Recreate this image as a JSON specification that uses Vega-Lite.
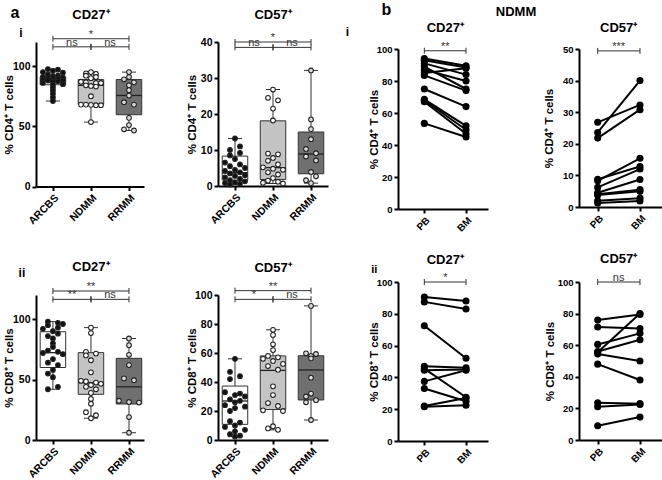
{
"$schema": "https://vega.github.io/schema/vega-lite/v6.json",
"background": "white",
"padding": {"left": 3, "top": 1, "right": 0, "bottom": 0},
"config": {
  "view": {"stroke": null},
  "font": "Liberation Sans",
  "axis": {"grid": false, "domainColor": "#000", "domainWidth": 2, "tickColor": "#000", "tickWidth": 2, "tickSize": 4, "labelColor": "#000", "labelFontWeight": "bold", "labelFontSize": 10.5, "labelPadding": 2, "titleColor": "#000", "titleFontWeight": "bold", "titleFontSize": 11.5, "titleBaseline": "middle", "labelOverlap": false}
},
"datasets": {
  "pts": [
    {"panel":"a1","group":"ARCBS","value":97.5,"lane":-1},{"panel":"a1","group":"ARCBS","value":97,"lane":1},{"panel":"a1","group":"ARCBS","value":96,"lane":0},{"panel":"a1","group":"ARCBS","value":95,"lane":-2},{"panel":"a1","group":"ARCBS","value":94.5,"lane":2},{"panel":"a1","group":"ARCBS","value":93,"lane":-1},{"panel":"a1","group":"ARCBS","value":92,"lane":1},{"panel":"a1","group":"ARCBS","value":91.5,"lane":0},{"panel":"a1","group":"ARCBS","value":91,"lane":-2},{"panel":"a1","group":"ARCBS","value":90.5,"lane":2},{"panel":"a1","group":"ARCBS","value":90,"lane":-1},{"panel":"a1","group":"ARCBS","value":89.5,"lane":1},{"panel":"a1","group":"ARCBS","value":89,"lane":0},{"panel":"a1","group":"ARCBS","value":88.5,"lane":-2},{"panel":"a1","group":"ARCBS","value":88,"lane":2},{"panel":"a1","group":"ARCBS","value":88,"lane":-1},{"panel":"a1","group":"ARCBS","value":87.5,"lane":1},{"panel":"a1","group":"ARCBS","value":87,"lane":0},{"panel":"a1","group":"ARCBS","value":86,"lane":-2},{"panel":"a1","group":"ARCBS","value":85,"lane":2},{"panel":"a1","group":"ARCBS","value":84.5,"lane":0},{"panel":"a1","group":"ARCBS","value":82,"lane":0},{"panel":"a1","group":"ARCBS","value":79.5,"lane":0},{"panel":"a1","group":"ARCBS","value":77,"lane":0},{"panel":"a1","group":"ARCBS","value":74,"lane":0},{"panel":"a1","group":"ARCBS","value":71,"lane":0},
    {"panel":"a1","group":"NDMM","value":95,"lane":0},{"panel":"a1","group":"NDMM","value":94,"lane":-1},{"panel":"a1","group":"NDMM","value":93.5,"lane":1},{"panel":"a1","group":"NDMM","value":92,"lane":-1},{"panel":"a1","group":"NDMM","value":91,"lane":1},{"panel":"a1","group":"NDMM","value":90,"lane":0},{"panel":"a1","group":"NDMM","value":87,"lane":-2},{"panel":"a1","group":"NDMM","value":86.5,"lane":-1},{"panel":"a1","group":"NDMM","value":86,"lane":1},{"panel":"a1","group":"NDMM","value":86,"lane":2},{"panel":"a1","group":"NDMM","value":84,"lane":-1},{"panel":"a1","group":"NDMM","value":83.5,"lane":0},{"panel":"a1","group":"NDMM","value":83,"lane":1},{"panel":"a1","group":"NDMM","value":75,"lane":0},{"panel":"a1","group":"NDMM","value":68,"lane":-2},{"panel":"a1","group":"NDMM","value":68,"lane":-1},{"panel":"a1","group":"NDMM","value":67.8,"lane":0},{"panel":"a1","group":"NDMM","value":67.5,"lane":1},{"panel":"a1","group":"NDMM","value":67.5,"lane":2},{"panel":"a1","group":"NDMM","value":53.5,"lane":0},
    {"panel":"a1","group":"RRMM","value":95,"lane":0},{"panel":"a1","group":"RRMM","value":91,"lane":0},{"panel":"a1","group":"RRMM","value":89,"lane":-1},{"panel":"a1","group":"RRMM","value":86.5,"lane":1},{"panel":"a1","group":"RRMM","value":84,"lane":0},{"panel":"a1","group":"RRMM","value":80,"lane":0},{"panel":"a1","group":"RRMM","value":75.5,"lane":0},{"panel":"a1","group":"RRMM","value":70,"lane":-1},{"panel":"a1","group":"RRMM","value":68,"lane":1},{"panel":"a1","group":"RRMM","value":57,"lane":0},{"panel":"a1","group":"RRMM","value":51,"lane":0},{"panel":"a1","group":"RRMM","value":47.5,"lane":-1},{"panel":"a1","group":"RRMM","value":46.5,"lane":1},
    {"panel":"a2","group":"ARCBS","value":13.2,"lane":0},{"panel":"a2","group":"ARCBS","value":11,"lane":1},{"panel":"a2","group":"ARCBS","value":10,"lane":-1},{"panel":"a2","group":"ARCBS","value":9.2,"lane":1},{"panel":"a2","group":"ARCBS","value":8.5,"lane":-1},{"panel":"a2","group":"ARCBS","value":7.5,"lane":0},{"panel":"a2","group":"ARCBS","value":6.5,"lane":-2},{"panel":"a2","group":"ARCBS","value":6,"lane":1},{"panel":"a2","group":"ARCBS","value":5.5,"lane":-1},{"panel":"a2","group":"ARCBS","value":5,"lane":2},{"panel":"a2","group":"ARCBS","value":4.5,"lane":0},{"panel":"a2","group":"ARCBS","value":4.2,"lane":-2},{"panel":"a2","group":"ARCBS","value":3.8,"lane":1},{"panel":"a2","group":"ARCBS","value":3.5,"lane":-1},{"panel":"a2","group":"ARCBS","value":3,"lane":2},{"panel":"a2","group":"ARCBS","value":2.8,"lane":0},{"panel":"a2","group":"ARCBS","value":2.4,"lane":-2},{"panel":"a2","group":"ARCBS","value":2,"lane":1},{"panel":"a2","group":"ARCBS","value":1.6,"lane":-1},{"panel":"a2","group":"ARCBS","value":1.3,"lane":2},{"panel":"a2","group":"ARCBS","value":1,"lane":0},{"panel":"a2","group":"ARCBS","value":0.8,"lane":-2},{"panel":"a2","group":"ARCBS","value":0.6,"lane":1},{"panel":"a2","group":"ARCBS","value":0.4,"lane":-1},
    {"panel":"a2","group":"NDMM","value":26.8,"lane":0},{"panel":"a2","group":"NDMM","value":24.5,"lane":-1},{"panel":"a2","group":"NDMM","value":23.8,"lane":1},{"panel":"a2","group":"NDMM","value":21.5,"lane":0},{"panel":"a2","group":"NDMM","value":18.2,"lane":0},{"panel":"a2","group":"NDMM","value":9,"lane":-1},{"panel":"a2","group":"NDMM","value":8.8,"lane":1},{"panel":"a2","group":"NDMM","value":7.8,"lane":0},{"panel":"a2","group":"NDMM","value":7,"lane":-1},{"panel":"a2","group":"NDMM","value":6,"lane":1},{"panel":"a2","group":"NDMM","value":5.2,"lane":-2},{"panel":"a2","group":"NDMM","value":4.8,"lane":0},{"panel":"a2","group":"NDMM","value":4.5,"lane":2},{"panel":"a2","group":"NDMM","value":3.8,"lane":-1},{"panel":"a2","group":"NDMM","value":3.2,"lane":1},{"panel":"a2","group":"NDMM","value":2.2,"lane":0},{"panel":"a2","group":"NDMM","value":1.5,"lane":-1},{"panel":"a2","group":"NDMM","value":1.2,"lane":1},{"panel":"a2","group":"NDMM","value":0.9,"lane":-2},{"panel":"a2","group":"NDMM","value":0.7,"lane":2},
    {"panel":"a2","group":"RRMM","value":32.1,"lane":0},{"panel":"a2","group":"RRMM","value":18.5,"lane":0},{"panel":"a2","group":"RRMM","value":15.8,"lane":0},{"panel":"a2","group":"RRMM","value":13,"lane":0},{"panel":"a2","group":"RRMM","value":10.3,"lane":-1},{"panel":"a2","group":"RRMM","value":9.1,"lane":1},{"panel":"a2","group":"RRMM","value":8.2,"lane":-1},{"panel":"a2","group":"RRMM","value":7.1,"lane":1},{"panel":"a2","group":"RRMM","value":3.9,"lane":0},{"panel":"a2","group":"RRMM","value":2.7,"lane":1},{"panel":"a2","group":"RRMM","value":1.6,"lane":-1},{"panel":"a2","group":"RRMM","value":0.8,"lane":0},
    {"panel":"a3","group":"ARCBS","value":98,"lane":-1},{"panel":"a3","group":"ARCBS","value":97,"lane":1},{"panel":"a3","group":"ARCBS","value":96,"lane":2},{"panel":"a3","group":"ARCBS","value":95,"lane":-1},{"panel":"a3","group":"ARCBS","value":93,"lane":1},{"panel":"a3","group":"ARCBS","value":92,"lane":-2},{"panel":"a3","group":"ARCBS","value":90,"lane":0},{"panel":"a3","group":"ARCBS","value":88,"lane":1},{"panel":"a3","group":"ARCBS","value":86,"lane":-1},{"panel":"a3","group":"ARCBS","value":84,"lane":0},{"panel":"a3","group":"ARCBS","value":80,"lane":0},{"panel":"a3","group":"ARCBS","value":77,"lane":0},{"panel":"a3","group":"ARCBS","value":74,"lane":-1},{"panel":"a3","group":"ARCBS","value":73,"lane":1},{"panel":"a3","group":"ARCBS","value":72,"lane":-2},{"panel":"a3","group":"ARCBS","value":71,"lane":2},{"panel":"a3","group":"ARCBS","value":67,"lane":0},{"panel":"a3","group":"ARCBS","value":64,"lane":-1},{"panel":"a3","group":"ARCBS","value":62,"lane":1},{"panel":"a3","group":"ARCBS","value":58,"lane":0},{"panel":"a3","group":"ARCBS","value":55,"lane":-1},{"panel":"a3","group":"ARCBS","value":52,"lane":0},{"panel":"a3","group":"ARCBS","value":44,"lane":1},{"panel":"a3","group":"ARCBS","value":42,"lane":-1},
    {"panel":"a3","group":"NDMM","value":93,"lane":0},{"panel":"a3","group":"NDMM","value":88.5,"lane":0},{"panel":"a3","group":"NDMM","value":73,"lane":-1},{"panel":"a3","group":"NDMM","value":71.5,"lane":1},{"panel":"a3","group":"NDMM","value":70,"lane":-1},{"panel":"a3","group":"NDMM","value":66,"lane":0},{"panel":"a3","group":"NDMM","value":56,"lane":0},{"panel":"a3","group":"NDMM","value":49,"lane":-2},{"panel":"a3","group":"NDMM","value":48.5,"lane":-1},{"panel":"a3","group":"NDMM","value":47.5,"lane":1},{"panel":"a3","group":"NDMM","value":46.5,"lane":2},{"panel":"a3","group":"NDMM","value":45.5,"lane":0},{"panel":"a3","group":"NDMM","value":44,"lane":-1},{"panel":"a3","group":"NDMM","value":42,"lane":1},{"panel":"a3","group":"NDMM","value":39,"lane":0},{"panel":"a3","group":"NDMM","value":34,"lane":0},{"panel":"a3","group":"NDMM","value":30,"lane":0},{"panel":"a3","group":"NDMM","value":23,"lane":-1},{"panel":"a3","group":"NDMM","value":20.5,"lane":1},{"panel":"a3","group":"NDMM","value":18,"lane":0},
    {"panel":"a3","group":"RRMM","value":84,"lane":0},{"panel":"a3","group":"RRMM","value":78.5,"lane":0},{"panel":"a3","group":"RRMM","value":70.5,"lane":0},{"panel":"a3","group":"RRMM","value":62,"lane":0},{"panel":"a3","group":"RRMM","value":51,"lane":-1},{"panel":"a3","group":"RRMM","value":49.5,"lane":1},{"panel":"a3","group":"RRMM","value":32.5,"lane":-2},{"panel":"a3","group":"RRMM","value":31.5,"lane":0},{"panel":"a3","group":"RRMM","value":31,"lane":2},{"panel":"a3","group":"RRMM","value":19,"lane":0},{"panel":"a3","group":"RRMM","value":6,"lane":0},
    {"panel":"a4","group":"ARCBS","value":56,"lane":0},{"panel":"a4","group":"ARCBS","value":47,"lane":-1},{"panel":"a4","group":"ARCBS","value":44,"lane":1},{"panel":"a4","group":"ARCBS","value":42,"lane":-1},{"panel":"a4","group":"ARCBS","value":33,"lane":-2},{"panel":"a4","group":"ARCBS","value":32,"lane":1},{"panel":"a4","group":"ARCBS","value":31,"lane":0},{"panel":"a4","group":"ARCBS","value":30,"lane":2},{"panel":"a4","group":"ARCBS","value":28,"lane":-1},{"panel":"a4","group":"ARCBS","value":27,"lane":1},{"panel":"a4","group":"ARCBS","value":26,"lane":0},{"panel":"a4","group":"ARCBS","value":24,"lane":-2},{"panel":"a4","group":"ARCBS","value":23,"lane":2},{"panel":"a4","group":"ARCBS","value":22,"lane":0},{"panel":"a4","group":"ARCBS","value":20,"lane":-1},{"panel":"a4","group":"ARCBS","value":13,"lane":-1},{"panel":"a4","group":"ARCBS","value":12,"lane":1},{"panel":"a4","group":"ARCBS","value":10,"lane":0},{"panel":"a4","group":"ARCBS","value":9,"lane":-2},{"panel":"a4","group":"ARCBS","value":7,"lane":2},{"panel":"a4","group":"ARCBS","value":6,"lane":0},{"panel":"a4","group":"ARCBS","value":4,"lane":-1},{"panel":"a4","group":"ARCBS","value":3,"lane":1},{"panel":"a4","group":"ARCBS","value":2.3,"lane":0},
    {"panel":"a4","group":"NDMM","value":76,"lane":0},{"panel":"a4","group":"NDMM","value":72.5,"lane":0},{"panel":"a4","group":"NDMM","value":66,"lane":0},{"panel":"a4","group":"NDMM","value":62,"lane":0},{"panel":"a4","group":"NDMM","value":58,"lane":-1},{"panel":"a4","group":"NDMM","value":57,"lane":1},{"panel":"a4","group":"NDMM","value":56,"lane":-2},{"panel":"a4","group":"NDMM","value":54.5,"lane":0},{"panel":"a4","group":"NDMM","value":52.5,"lane":2},{"panel":"a4","group":"NDMM","value":51,"lane":-1},{"panel":"a4","group":"NDMM","value":48.5,"lane":1},{"panel":"a4","group":"NDMM","value":37,"lane":0},{"panel":"a4","group":"NDMM","value":31,"lane":0},{"panel":"a4","group":"NDMM","value":25.5,"lane":-1},{"panel":"a4","group":"NDMM","value":23.5,"lane":1},{"panel":"a4","group":"NDMM","value":20.5,"lane":-2},{"panel":"a4","group":"NDMM","value":20,"lane":2},{"panel":"a4","group":"NDMM","value":9.5,"lane":0},{"panel":"a4","group":"NDMM","value":8,"lane":-1},{"panel":"a4","group":"NDMM","value":7,"lane":1},
    {"panel":"a4","group":"RRMM","value":92.5,"lane":0},{"panel":"a4","group":"RRMM","value":59.8,"lane":-1},{"panel":"a4","group":"RRMM","value":59.3,"lane":1},{"panel":"a4","group":"RRMM","value":58,"lane":0},{"panel":"a4","group":"RRMM","value":56.3,"lane":0},{"panel":"a4","group":"RRMM","value":43,"lane":0},{"panel":"a4","group":"RRMM","value":32,"lane":0},{"panel":"a4","group":"RRMM","value":30,"lane":-1},{"panel":"a4","group":"RRMM","value":27.5,"lane":1},{"panel":"a4","group":"RRMM","value":26,"lane":-1},{"panel":"a4","group":"RRMM","value":13.8,"lane":0}
  ],
  "box": [
    {"panel":"a1","group":"ARCBS","min":71,"q1":84.5,"med":88,"q3":91,"max":97.5},
    {"panel":"a1","group":"NDMM","min":53.5,"q1":68.2,"med":84,"q3":88.8,"max":95},
    {"panel":"a1","group":"RRMM","min":46.5,"q1":59.6,"med":75.6,"q3":88.8,"max":95},
    {"panel":"a2","group":"ARCBS","min":0.4,"q1":1.6,"med":3.7,"q3":8.3,"max":13.2},
    {"panel":"a2","group":"NDMM","min":0.7,"q1":1.8,"med":5.1,"q3":18.1,"max":26.8},
    {"panel":"a2","group":"RRMM","min":0.8,"q1":3.4,"med":8.9,"q3":15,"max":32.1},
    {"panel":"a3","group":"ARCBS","min":42,"q1":60,"med":72.3,"q3":89.6,"max":98},
    {"panel":"a3","group":"NDMM","min":18,"q1":37.8,"med":47.5,"q3":72.3,"max":93},
    {"panel":"a3","group":"RRMM","min":6,"q1":29.8,"med":44,"q3":67.6,"max":84},
    {"panel":"a4","group":"ARCBS","min":2.3,"q1":10.8,"med":26.9,"q3":37.2,"max":56},
    {"panel":"a4","group":"NDMM","min":7,"q1":21,"med":48,"q3":58,"max":76},
    {"panel":"a4","group":"RRMM","min":13.8,"q1":27.6,"med":48.3,"q3":58.1,"max":92.5}
  ],
  "sig": [
    {"panel":"a1","from":"ARCBS","to":"RRMM","level":122.7,"label":"*","kind":"wide"},
    {"panel":"a1","from":"ARCBS","to":"NDMM","level":116,"label":"ns","kind":"adj"},
    {"panel":"a1","from":"NDMM","to":"RRMM","level":116,"label":"ns","kind":"adj"},
    {"panel":"a2","from":"ARCBS","to":"RRMM","level":40,"label":"*","kind":"wide"},
    {"panel":"a2","from":"ARCBS","to":"NDMM","level":38.5,"label":"ns","kind":"adj"},
    {"panel":"a2","from":"NDMM","to":"RRMM","level":38.5,"label":"ns","kind":"adj"},
    {"panel":"a3","from":"ARCBS","to":"RRMM","level":123.3,"label":"**","kind":"wide"},
    {"panel":"a3","from":"ARCBS","to":"NDMM","level":116.4,"label":"**","kind":"adj"},
    {"panel":"a3","from":"NDMM","to":"RRMM","level":116.4,"label":"ns","kind":"adj"},
    {"panel":"a4","from":"ARCBS","to":"RRMM","level":103,"label":"**","kind":"wide"},
    {"panel":"a4","from":"ARCBS","to":"NDMM","level":97,"label":"*","kind":"adj"},
    {"panel":"a4","from":"NDMM","to":"RRMM","level":97,"label":"ns","kind":"adj"},
    {"panel":"b1","from":"PB","to":"BM","level":98.9,"label":"**","kind":"adj"},
    {"panel":"b2","from":"PB","to":"BM","level":49.4,"label":"***","kind":"adj"},
    {"panel":"b3","from":"PB","to":"BM","level":100,"label":"*","kind":"adj"},
    {"panel":"b4","from":"PB","to":"BM","level":100,"label":"ns","kind":"adj"}
  ],
  "pairs": [
    {"panel":"b1","id":1,"site":"PB","value":94},{"panel":"b1","id":1,"site":"BM","value":89.5},
    {"panel":"b1","id":2,"site":"PB","value":93},{"panel":"b1","id":2,"site":"BM","value":88.5},
    {"panel":"b1","id":3,"site":"PB","value":91},{"panel":"b1","id":3,"site":"BM","value":84},
    {"panel":"b1","id":4,"site":"PB","value":89},{"panel":"b1","id":4,"site":"BM","value":75},
    {"panel":"b1","id":5,"site":"PB","value":87},{"panel":"b1","id":5,"site":"BM","value":80},
    {"panel":"b1","id":6,"site":"PB","value":85},{"panel":"b1","id":6,"site":"BM","value":88},
    {"panel":"b1","id":7,"site":"PB","value":83.5},{"panel":"b1","id":7,"site":"BM","value":74},
    {"panel":"b1","id":8,"site":"PB","value":75},{"panel":"b1","id":8,"site":"BM","value":64},
    {"panel":"b1","id":9,"site":"PB","value":68.5},{"panel":"b1","id":9,"site":"BM","value":52},
    {"panel":"b1","id":10,"site":"PB","value":68},{"panel":"b1","id":10,"site":"BM","value":49.5},
    {"panel":"b1","id":11,"site":"PB","value":67},{"panel":"b1","id":11,"site":"BM","value":47},
    {"panel":"b1","id":12,"site":"PB","value":53.5},{"panel":"b1","id":12,"site":"BM","value":45},
    {"panel":"b2","id":1,"site":"PB","value":26.8},{"panel":"b2","id":1,"site":"BM","value":32.3},
    {"panel":"b2","id":2,"site":"PB","value":23.6},{"panel":"b2","id":2,"site":"BM","value":40},
    {"panel":"b2","id":3,"site":"PB","value":21.8},{"panel":"b2","id":3,"site":"BM","value":30.8},
    {"panel":"b2","id":4,"site":"PB","value":8.8},{"panel":"b2","id":4,"site":"BM","value":12.8},
    {"panel":"b2","id":5,"site":"PB","value":8.3},{"panel":"b2","id":5,"site":"BM","value":15.4},
    {"panel":"b2","id":6,"site":"PB","value":6.2},{"panel":"b2","id":6,"site":"BM","value":12},
    {"panel":"b2","id":7,"site":"PB","value":4.5},{"panel":"b2","id":7,"site":"BM","value":8.7},
    {"panel":"b2","id":8,"site":"PB","value":4},{"panel":"b2","id":8,"site":"BM","value":5.5},
    {"panel":"b2","id":9,"site":"PB","value":3.8},{"panel":"b2","id":9,"site":"BM","value":5},
    {"panel":"b2","id":10,"site":"PB","value":2},{"panel":"b2","id":10,"site":"BM","value":2.8},
    {"panel":"b2","id":11,"site":"PB","value":1.3},{"panel":"b2","id":11,"site":"BM","value":1.9},
    {"panel":"b3","id":1,"site":"PB","value":90.5},{"panel":"b3","id":1,"site":"BM","value":88},
    {"panel":"b3","id":2,"site":"PB","value":87.5},{"panel":"b3","id":2,"site":"BM","value":83},
    {"panel":"b3","id":3,"site":"PB","value":72.5},{"panel":"b3","id":3,"site":"BM","value":52},
    {"panel":"b3","id":4,"site":"PB","value":47},{"panel":"b3","id":4,"site":"BM","value":46},
    {"panel":"b3","id":5,"site":"PB","value":45.5},{"panel":"b3","id":5,"site":"BM","value":27.5},
    {"panel":"b3","id":6,"site":"PB","value":44.5},{"panel":"b3","id":6,"site":"BM","value":45},
    {"panel":"b3","id":7,"site":"PB","value":37.5},{"panel":"b3","id":7,"site":"BM","value":44.5},
    {"panel":"b3","id":8,"site":"PB","value":33},{"panel":"b3","id":8,"site":"BM","value":25},
    {"panel":"b3","id":9,"site":"PB","value":22},{"panel":"b3","id":9,"site":"BM","value":27},
    {"panel":"b3","id":10,"site":"PB","value":21.5},{"panel":"b3","id":10,"site":"BM","value":22.5},
    {"panel":"b4","id":1,"site":"PB","value":76},{"panel":"b4","id":1,"site":"BM","value":79.5},
    {"panel":"b4","id":2,"site":"PB","value":71.5},{"panel":"b4","id":2,"site":"BM","value":70.5},
    {"panel":"b4","id":3,"site":"PB","value":60.5},{"panel":"b4","id":3,"site":"BM","value":67.5},
    {"panel":"b4","id":4,"site":"PB","value":55.5},{"panel":"b4","id":4,"site":"BM","value":80},
    {"panel":"b4","id":5,"site":"PB","value":56},{"panel":"b4","id":5,"site":"BM","value":63.5},
    {"panel":"b4","id":6,"site":"PB","value":54.5},{"panel":"b4","id":6,"site":"BM","value":50},
    {"panel":"b4","id":7,"site":"PB","value":48},{"panel":"b4","id":7,"site":"BM","value":38},
    {"panel":"b4","id":8,"site":"PB","value":23.5},{"panel":"b4","id":8,"site":"BM","value":23},
    {"panel":"b4","id":9,"site":"PB","value":21},{"panel":"b4","id":9,"site":"BM","value":22.5},
    {"panel":"b4","id":10,"site":"PB","value":9},{"panel":"b4","id":10,"site":"BM","value":14.5}
  ],
  "ann": [
    {"key":"a1t","label":"CD27⁺"},{"key":"a","label":"a"},{"key":"a_i","label":"i"},
    {"key":"a2t","label":"CD57⁺"},{"key":"a3t","label":"CD27⁺"},{"key":"a_ii","label":"ii"},
    {"key":"a4t","label":"CD57⁺"},{"key":"b1t","label":"CD27⁺"},{"key":"b","label":"b"},
    {"key":"b_i","label":"i"},{"key":"ndmm","label":"NDMM"},{"key":"b2t","label":"CD57⁺"},
    {"key":"b3t","label":"CD27⁺"},{"key":"b_ii","label":"ii"},{"key":"b4t","label":"CD57⁺"}
  ]
},
"columns": 4,
"bounds": "flush",
"align": "each",
"spacing": {"row": 73, "column": 70},
"concat": [
{"width":112,"height":144.5,"resolve":{"scale":{"fill":"independent"},"axis":{"x":"independent","y":"independent"}},
 "layer":[
  {"data":{"name":"box"},"transform":[{"filter":"datum.panel == 'a1'"}],
   "resolve":{"axis":{"y":"independent"}},
   "encoding":{"x":{"field":"group","type":"nominal","scale":{"type":"point","domain":["ARCBS","NDMM","RRMM"],"range":[0,108],"padding":0.42,"align":0.53},"axis":{"title":null,"labelAngle":-45,"labelOverlap":false}}},
   "layer":[
    {"mark":{"type":"rule","color":"#333","strokeWidth":1},"encoding":{"y":{"field":"min","type":"quantitative","scale":{"domain":[0,120],"range":[144.5,0],"nice":false,"zero":false},"axis":{"title":"% CD4⁺ T cells","values":[0,50,100],"titleX":-27,"labelOverlap":false}},"y2":{"field":"max"}}},
    {"mark":{"type":"tick","color":"#333","size":14,"thickness":1,"opacity":1},"encoding":{"y":{"field":"min","type":"quantitative","scale":{"domain":[0,120],"range":[144.5,0],"nice":false,"zero":false},"axis":null}}},
    {"mark":{"type":"tick","color":"#333","size":14,"thickness":1,"opacity":1},"encoding":{"y":{"field":"max","type":"quantitative","scale":{"domain":[0,120],"range":[144.5,0],"nice":false,"zero":false},"axis":null}}},
    {"mark":{"type":"bar","size":25.5,"stroke":"#333","strokeWidth":1},"encoding":{"y":{"field":"q1","type":"quantitative","scale":{"domain":[0,120],"range":[144.5,0],"nice":false,"zero":false},"axis":null},"y2":{"field":"q3"},"fill":{"field":"group","type":"nominal","scale":{"domain":["ARCBS","NDMM","RRMM"],"range":["#ffffff","#c4c4c4","#707070"]},"legend":null}}},
    {"mark":{"type":"tick","color":"#222","size":25.5,"thickness":1.3,"opacity":1},"encoding":{"y":{"field":"med","type":"quantitative","scale":{"domain":[0,120],"range":[144.5,0],"nice":false,"zero":false},"axis":null}}}
   ]},
  {"data":{"name":"pts"},"transform":[{"filter":"datum.panel == 'a1'"}],
   "mark":{"type":"circle","size":22,"stroke":"#222","strokeWidth":1.1,"opacity":1},
   "encoding":{"x":{"field":"group","type":"nominal","scale":{"type":"point","domain":["ARCBS","NDMM","RRMM"],"range":[0,108],"padding":0.42,"align":0.53},"axis":null},"y":{"field":"value","type":"quantitative","scale":{"domain":[0,120],"range":[144.5,0],"nice":false,"zero":false},"axis":null},"xOffset":{"field":"lane","type":"quantitative","scale":{"domain":[-2,2],"range":[-10,10]}},"fill":{"field":"group","type":"nominal","scale":{"domain":["ARCBS","NDMM","RRMM"],"range":["#111111","#ffffff","#dddddd"]},"legend":null}}},
  {"data":{"name":"sig"},"transform":[{"filter":"datum.panel == 'a1'"}],
   "encoding":{"y":{"field":"level","type":"quantitative","scale":{"domain":[0,120],"range":[144.5,0],"nice":false,"zero":false},"axis":null}},
   "layer":[
    {"mark":{"type":"rule","color":"#333","strokeWidth":1},"encoding":{"x":{"field":"from","type":"nominal","scale":{"type":"point","domain":["ARCBS","NDMM","RRMM"],"range":[0,108],"padding":0.42,"align":0.53},"axis":null},"x2":{"field":"to"}}},
    {"mark":{"type":"rule","color":"#333","strokeWidth":1,"yOffset":-3,"y2Offset":3},"encoding":{"x":{"field":"from","type":"nominal","scale":{"type":"point","domain":["ARCBS","NDMM","RRMM"],"range":[0,108],"padding":0.42,"align":0.53},"axis":null},"y2":{"field":"level"}}},
    {"mark":{"type":"rule","color":"#333","strokeWidth":1,"yOffset":-3,"y2Offset":3},"encoding":{"x":{"field":"to","type":"nominal","scale":{"type":"point","domain":["ARCBS","NDMM","RRMM"],"range":[0,108],"padding":0.42,"align":0.53},"axis":null},"y2":{"field":"level"}}},
    {"transform":[{"filter":"datum.kind == 'wide'"}],"mark":{"type":"text","dx":38,"dy":-1,"baseline":"alphabetic","fontSize":11,"color":"#333"},"encoding":{"x":{"field":"from","type":"nominal","scale":{"type":"point","domain":["ARCBS","NDMM","RRMM"],"range":[0,108],"padding":0.42,"align":0.53},"axis":null},"text":{"field":"label"}}},
    {"transform":[{"filter":"datum.kind == 'adj'"}],"mark":{"type":"text","dx":19,"dy":-1,"baseline":"alphabetic","fontSize":11,"color":"#333"},"encoding":{"x":{"field":"from","type":"nominal","scale":{"type":"point","domain":["ARCBS","NDMM","RRMM"],"range":[0,108],"padding":0.42,"align":0.53},"axis":null},"text":{"field":"label"}}}
   ]},
  {"data":{"name":"ann"},"transform":[{"filter":"datum.key == 'a1t'"}],"mark":{"type":"text","fontSize":13,"fontWeight":"bold","baseline":"middle","color":"#000"},"encoding":{"x":{"datum":"NDMM","type":"nominal","scale":{"type":"point","domain":["ARCBS","NDMM","RRMM"],"range":[0,108],"padding":0.42,"align":0.53},"axis":null},"y":{"datum":142.6,"type":"quantitative","scale":{"domain":[0,120],"range":[144.5,0],"nice":false,"zero":false},"axis":null},"text":{"field":"label"}}},
  {"data":{"name":"ann"},"transform":[{"filter":"datum.key == 'a'"}],"mark":{"type":"text","fontSize":16,"fontWeight":"bold","baseline":"middle","dx":-38,"color":"#000"},"encoding":{"x":{"datum":"ARCBS","type":"nominal","scale":{"type":"point","domain":["ARCBS","NDMM","RRMM"],"range":[0,108],"padding":0.42,"align":0.53},"axis":null},"y":{"datum":144.2,"type":"quantitative","scale":{"domain":[0,120],"range":[144.5,0],"nice":false,"zero":false},"axis":null},"text":{"field":"label"}}},
  {"data":{"name":"ann"},"transform":[{"filter":"datum.key == 'a_i'"}],"mark":{"type":"text","fontSize":12,"fontWeight":"bold","baseline":"middle","dx":-32,"color":"#000"},"encoding":{"x":{"datum":"ARCBS","type":"nominal","scale":{"type":"point","domain":["ARCBS","NDMM","RRMM"],"range":[0,108],"padding":0.42,"align":0.53},"axis":null},"y":{"datum":127.7,"type":"quantitative","scale":{"domain":[0,120],"range":[144.5,0],"nice":false,"zero":false},"axis":null},"text":{"field":"label"}}}
 ]},
{"width":110,"height":144,"resolve":{"scale":{"fill":"independent"},"axis":{"x":"independent","y":"independent"}},
 "layer":[
  {"data":{"name":"box"},"transform":[{"filter":"datum.panel == 'a2'"}],
   "resolve":{"axis":{"y":"independent"}},
   "encoding":{"x":{"field":"group","type":"nominal","scale":{"type":"point","domain":["ARCBS","NDMM","RRMM"],"range":[0,110],"padding":0.447,"align":0.5},"axis":{"title":null,"labelAngle":-45,"labelOverlap":false}}},
   "layer":[
    {"mark":{"type":"rule","color":"#333","strokeWidth":1},"encoding":{"y":{"field":"min","type":"quantitative","scale":{"domain":[0,40],"range":[144,0],"nice":false,"zero":false},"axis":{"title":"% CD4⁺ T cells","values":[0,10,20,30,40],"titleX":-26,"labelOverlap":false}},"y2":{"field":"max"}}},
    {"mark":{"type":"tick","color":"#333","size":14,"thickness":1,"opacity":1},"encoding":{"y":{"field":"min","type":"quantitative","scale":{"domain":[0,40],"range":[144,0],"nice":false,"zero":false},"axis":null}}},
    {"mark":{"type":"tick","color":"#333","size":14,"thickness":1,"opacity":1},"encoding":{"y":{"field":"max","type":"quantitative","scale":{"domain":[0,40],"range":[144,0],"nice":false,"zero":false},"axis":null}}},
    {"mark":{"type":"bar","size":25.5,"stroke":"#333","strokeWidth":1},"encoding":{"y":{"field":"q1","type":"quantitative","scale":{"domain":[0,40],"range":[144,0],"nice":false,"zero":false},"axis":null},"y2":{"field":"q3"},"fill":{"field":"group","type":"nominal","scale":{"domain":["ARCBS","NDMM","RRMM"],"range":["#ffffff","#c4c4c4","#707070"]},"legend":null}}},
    {"mark":{"type":"tick","color":"#222","size":25.5,"thickness":1.3,"opacity":1},"encoding":{"y":{"field":"med","type":"quantitative","scale":{"domain":[0,40],"range":[144,0],"nice":false,"zero":false},"axis":null}}}
   ]},
  {"data":{"name":"pts"},"transform":[{"filter":"datum.panel == 'a2'"}],
   "mark":{"type":"circle","size":22,"stroke":"#222","strokeWidth":1.1,"opacity":1},
   "encoding":{"x":{"field":"group","type":"nominal","scale":{"type":"point","domain":["ARCBS","NDMM","RRMM"],"range":[0,110],"padding":0.447,"align":0.5},"axis":null},"y":{"field":"value","type":"quantitative","scale":{"domain":[0,40],"range":[144,0],"nice":false,"zero":false},"axis":null},"xOffset":{"field":"lane","type":"quantitative","scale":{"domain":[-2,2],"range":[-10,10]}},"fill":{"field":"group","type":"nominal","scale":{"domain":["ARCBS","NDMM","RRMM"],"range":["#111111","#ffffff","#dddddd"]},"legend":null}}},
  {"data":{"name":"sig"},"transform":[{"filter":"datum.panel == 'a2'"}],
   "encoding":{"y":{"field":"level","type":"quantitative","scale":{"domain":[0,40],"range":[144,0],"nice":false,"zero":false},"axis":null}},
   "layer":[
    {"mark":{"type":"rule","color":"#333","strokeWidth":1},"encoding":{"x":{"field":"from","type":"nominal","scale":{"type":"point","domain":["ARCBS","NDMM","RRMM"],"range":[0,110],"padding":0.447,"align":0.5},"axis":null},"x2":{"field":"to"}}},
    {"mark":{"type":"rule","color":"#333","strokeWidth":1,"yOffset":-3,"y2Offset":3},"encoding":{"x":{"field":"from","type":"nominal","scale":{"type":"point","domain":["ARCBS","NDMM","RRMM"],"range":[0,110],"padding":0.447,"align":0.5},"axis":null},"y2":{"field":"level"}}},
    {"mark":{"type":"rule","color":"#333","strokeWidth":1,"yOffset":-3,"y2Offset":3},"encoding":{"x":{"field":"to","type":"nominal","scale":{"type":"point","domain":["ARCBS","NDMM","RRMM"],"range":[0,110],"padding":0.447,"align":0.5},"axis":null},"y2":{"field":"level"}}},
    {"transform":[{"filter":"datum.kind == 'wide'"}],"mark":{"type":"text","dx":38,"dy":-1,"baseline":"alphabetic","fontSize":11,"color":"#333"},"encoding":{"x":{"field":"from","type":"nominal","scale":{"type":"point","domain":["ARCBS","NDMM","RRMM"],"range":[0,110],"padding":0.447,"align":0.5},"axis":null},"text":{"field":"label"}}},
    {"transform":[{"filter":"datum.kind == 'adj'"}],"mark":{"type":"text","dx":19,"dy":-1,"baseline":"alphabetic","fontSize":11,"color":"#333"},"encoding":{"x":{"field":"from","type":"nominal","scale":{"type":"point","domain":["ARCBS","NDMM","RRMM"],"range":[0,110],"padding":0.447,"align":0.5},"axis":null},"text":{"field":"label"}}}
   ]},
  {"data":{"name":"ann"},"transform":[{"filter":"datum.key == 'a2t'"}],"mark":{"type":"text","fontSize":13,"fontWeight":"bold","baseline":"middle","color":"#000"},"encoding":{"x":{"datum":"NDMM","type":"nominal","scale":{"type":"point","domain":["ARCBS","NDMM","RRMM"],"range":[0,110],"padding":0.447,"align":0.5},"axis":null},"y":{"datum":47.4,"type":"quantitative","scale":{"domain":[0,40],"range":[144,0],"nice":false,"zero":false},"axis":null},"text":{"field":"label"}}}
 ]},
{"width":111,"height":167,"resolve":{"axis":{"x":"independent","y":"independent"}},
 "layer":[
  {"data":{"name":"pairs"},"transform":[{"filter":"datum.panel == 'b1'"}],
   "encoding":{"x":{"field":"site","type":"nominal","scale":{"type":"point","domain":["PB","BM"],"range":[0,90],"padding":0.579,"align":0.545},"axis":{"title":null,"labelAngle":-45,"labelFontSize":10,"labelOverlap":false}},"y":{"field":"value","type":"quantitative","scale":{"domain":[0,100],"range":[167,7],"nice":false,"zero":false},"axis":{"title":"% CD4⁺ T cells","values":[0,20,40,60,80,100],"titleX":-24,"labelFontSize":9.5,"labelOverlap":false}}},
   "layer":[
    {"mark":{"type":"line","color":"#000","strokeWidth":2},"encoding":{"detail":{"field":"id","type":"nominal"}}},
    {"mark":{"type":"circle","color":"#000","size":50,"opacity":1},"encoding":{}}
   ]},
  {"data":{"name":"sig"},"transform":[{"filter":"datum.panel == 'b1'"}],
   "encoding":{"y":{"field":"level","type":"quantitative","scale":{"domain":[0,100],"range":[167,7],"nice":false,"zero":false},"axis":null}},
   "layer":[
    {"mark":{"type":"rule","color":"#333","strokeWidth":1},"encoding":{"x":{"field":"from","type":"nominal","scale":{"type":"point","domain":["PB","BM"],"range":[0,90],"padding":0.579,"align":0.545},"axis":null},"x2":{"field":"to"}}},
    {"mark":{"type":"rule","color":"#333","strokeWidth":1,"yOffset":-3,"y2Offset":3},"encoding":{"x":{"field":"from","type":"nominal","scale":{"type":"point","domain":["PB","BM"],"range":[0,90],"padding":0.579,"align":0.545},"axis":null},"y2":{"field":"level"}}},
    {"mark":{"type":"rule","color":"#333","strokeWidth":1,"yOffset":-3,"y2Offset":3},"encoding":{"x":{"field":"to","type":"nominal","scale":{"type":"point","domain":["PB","BM"],"range":[0,90],"padding":0.579,"align":0.545},"axis":null},"y2":{"field":"level"}}},
    {"mark":{"type":"text","dx":21,"dy":-1,"baseline":"alphabetic","fontSize":11,"color":"#333"},"encoding":{"x":{"field":"from","type":"nominal","scale":{"type":"point","domain":["PB","BM"],"range":[0,90],"padding":0.579,"align":0.545},"axis":null},"text":{"field":"label"}}}
   ]},
  {"data":{"name":"ann"},"transform":[{"filter":"datum.key == 'b1t'"}],"mark":{"type":"text","fontSize":13,"fontWeight":"bold","baseline":"middle","dx":21,"color":"#000"},"encoding":{"x":{"datum":"PB","type":"nominal","scale":{"type":"point","domain":["PB","BM"],"range":[0,90],"padding":0.579,"align":0.545},"axis":null},"y":{"datum":113,"type":"quantitative","scale":{"domain":[0,100],"range":[167,7],"nice":false,"zero":false},"axis":null},"text":{"field":"label"}}},
  {"data":{"name":"ann"},"transform":[{"filter":"datum.key == 'b'"}],"mark":{"type":"text","fontSize":16,"fontWeight":"bold","baseline":"middle","dx":-38,"color":"#000"},"encoding":{"x":{"datum":"PB","type":"nominal","scale":{"type":"point","domain":["PB","BM"],"range":[0,90],"padding":0.579,"align":0.545},"axis":null},"y":{"datum":124.4,"type":"quantitative","scale":{"domain":[0,100],"range":[167,7],"nice":false,"zero":false},"axis":null},"text":{"field":"label"}}},
  {"data":{"name":"ann"},"transform":[{"filter":"datum.key == 'b_i'"}],"mark":{"type":"text","fontSize":12,"fontWeight":"bold","baseline":"middle","dx":-77,"color":"#000"},"encoding":{"x":{"datum":"PB","type":"nominal","scale":{"type":"point","domain":["PB","BM"],"range":[0,90],"padding":0.579,"align":0.545},"axis":null},"y":{"datum":110.8,"type":"quantitative","scale":{"domain":[0,100],"range":[167,7],"nice":false,"zero":false},"axis":null},"text":{"field":"label"}}},
  {"data":{"name":"ann"},"transform":[{"filter":"datum.key == 'ndmm'"}],"mark":{"type":"text","fontSize":13,"fontWeight":"bold","baseline":"middle","dx":50,"color":"#000"},"encoding":{"x":{"datum":"BM","type":"nominal","scale":{"type":"point","domain":["PB","BM"],"range":[0,90],"padding":0.579,"align":0.545},"axis":null},"y":{"datum":123,"type":"quantitative","scale":{"domain":[0,100],"range":[167,7],"nice":false,"zero":false},"axis":null},"text":{"field":"label"}}}
 ]},
{"width":84,"height":165,"resolve":{"axis":{"x":"independent","y":"independent"}},
 "layer":[
  {"data":{"name":"pairs"},"transform":[{"filter":"datum.panel == 'b2'"}],
   "encoding":{"x":{"field":"site","type":"nominal","scale":{"type":"point","domain":["PB","BM"],"range":[0,84],"padding":0.493,"align":0.448},"axis":{"title":null,"labelAngle":-45,"labelFontSize":10,"labelOverlap":false}},"y":{"field":"value","type":"quantitative","scale":{"domain":[0,50],"range":[165,7],"nice":false,"zero":false},"axis":{"title":"% CD4⁺ T cells","values":[0,10,20,30,40,50],"titleX":-30,"labelFontSize":9.5,"labelOverlap":false}}},
   "layer":[
    {"mark":{"type":"line","color":"#000","strokeWidth":2},"encoding":{"detail":{"field":"id","type":"nominal"}}},
    {"mark":{"type":"circle","color":"#000","size":50,"opacity":1},"encoding":{}}
   ]},
  {"data":{"name":"sig"},"transform":[{"filter":"datum.panel == 'b2'"}],
   "encoding":{"y":{"field":"level","type":"quantitative","scale":{"domain":[0,50],"range":[165,7],"nice":false,"zero":false},"axis":null}},
   "layer":[
    {"mark":{"type":"rule","color":"#333","strokeWidth":1},"encoding":{"x":{"field":"from","type":"nominal","scale":{"type":"point","domain":["PB","BM"],"range":[0,84],"padding":0.493,"align":0.448},"axis":null},"x2":{"field":"to"}}},
    {"mark":{"type":"rule","color":"#333","strokeWidth":1,"yOffset":-3,"y2Offset":3},"encoding":{"x":{"field":"from","type":"nominal","scale":{"type":"point","domain":["PB","BM"],"range":[0,84],"padding":0.493,"align":0.448},"axis":null},"y2":{"field":"level"}}},
    {"mark":{"type":"rule","color":"#333","strokeWidth":1,"yOffset":-3,"y2Offset":3},"encoding":{"x":{"field":"to","type":"nominal","scale":{"type":"point","domain":["PB","BM"],"range":[0,84],"padding":0.493,"align":0.448},"axis":null},"y2":{"field":"level"}}},
    {"mark":{"type":"text","dx":21,"dy":-1,"baseline":"alphabetic","fontSize":11,"color":"#333"},"encoding":{"x":{"field":"from","type":"nominal","scale":{"type":"point","domain":["PB","BM"],"range":[0,84],"padding":0.493,"align":0.448},"axis":null},"text":{"field":"label"}}}
   ]},
  {"data":{"name":"ann"},"transform":[{"filter":"datum.key == 'b2t'"}],"mark":{"type":"text","fontSize":13,"fontWeight":"bold","baseline":"middle","dx":21,"color":"#000"},"encoding":{"x":{"datum":"PB","type":"nominal","scale":{"type":"point","domain":["PB","BM"],"range":[0,84],"padding":0.493,"align":0.448},"axis":null},"y":{"datum":56.5,"type":"quantitative","scale":{"domain":[0,50],"range":[165,7],"nice":false,"zero":false},"axis":null},"text":{"field":"label"}}}
 ]},
{"width":112,"height":158,"resolve":{"scale":{"fill":"independent"},"axis":{"x":"independent","y":"independent"}},
 "layer":[
  {"data":{"name":"box"},"transform":[{"filter":"datum.panel == 'a3'"}],
   "resolve":{"axis":{"y":"independent"}},
   "encoding":{"x":{"field":"group","type":"nominal","scale":{"type":"point","domain":["ARCBS","NDMM","RRMM"],"range":[0,108],"padding":0.42,"align":0.53},"axis":{"title":null,"labelAngle":-45,"labelOverlap":false}}},
   "layer":[
    {"mark":{"type":"rule","color":"#333","strokeWidth":1},"encoding":{"y":{"field":"min","type":"quantitative","scale":{"domain":[0,120],"range":[158,13],"nice":false,"zero":false},"axis":{"title":"% CD8⁺ T cells","values":[0,50,100],"titleX":-27,"labelOverlap":false}},"y2":{"field":"max"}}},
    {"mark":{"type":"tick","color":"#333","size":14,"thickness":1,"opacity":1},"encoding":{"y":{"field":"min","type":"quantitative","scale":{"domain":[0,120],"range":[158,13],"nice":false,"zero":false},"axis":null}}},
    {"mark":{"type":"tick","color":"#333","size":14,"thickness":1,"opacity":1},"encoding":{"y":{"field":"max","type":"quantitative","scale":{"domain":[0,120],"range":[158,13],"nice":false,"zero":false},"axis":null}}},
    {"mark":{"type":"bar","size":25.5,"stroke":"#333","strokeWidth":1},"encoding":{"y":{"field":"q1","type":"quantitative","scale":{"domain":[0,120],"range":[158,13],"nice":false,"zero":false},"axis":null},"y2":{"field":"q3"},"fill":{"field":"group","type":"nominal","scale":{"domain":["ARCBS","NDMM","RRMM"],"range":["#ffffff","#c4c4c4","#707070"]},"legend":null}}},
    {"mark":{"type":"tick","color":"#222","size":25.5,"thickness":1.3,"opacity":1},"encoding":{"y":{"field":"med","type":"quantitative","scale":{"domain":[0,120],"range":[158,13],"nice":false,"zero":false},"axis":null}}}
   ]},
  {"data":{"name":"pts"},"transform":[{"filter":"datum.panel == 'a3'"}],
   "mark":{"type":"circle","size":22,"stroke":"#222","strokeWidth":1.1,"opacity":1},
   "encoding":{"x":{"field":"group","type":"nominal","scale":{"type":"point","domain":["ARCBS","NDMM","RRMM"],"range":[0,108],"padding":0.42,"align":0.53},"axis":null},"y":{"field":"value","type":"quantitative","scale":{"domain":[0,120],"range":[158,13],"nice":false,"zero":false},"axis":null},"xOffset":{"field":"lane","type":"quantitative","scale":{"domain":[-2,2],"range":[-10,10]}},"fill":{"field":"group","type":"nominal","scale":{"domain":["ARCBS","NDMM","RRMM"],"range":["#111111","#ffffff","#dddddd"]},"legend":null}}},
  {"data":{"name":"sig"},"transform":[{"filter":"datum.panel == 'a3'"}],
   "encoding":{"y":{"field":"level","type":"quantitative","scale":{"domain":[0,120],"range":[158,13],"nice":false,"zero":false},"axis":null}},
   "layer":[
    {"mark":{"type":"rule","color":"#333","strokeWidth":1},"encoding":{"x":{"field":"from","type":"nominal","scale":{"type":"point","domain":["ARCBS","NDMM","RRMM"],"range":[0,108],"padding":0.42,"align":0.53},"axis":null},"x2":{"field":"to"}}},
    {"mark":{"type":"rule","color":"#333","strokeWidth":1,"yOffset":-3,"y2Offset":3},"encoding":{"x":{"field":"from","type":"nominal","scale":{"type":"point","domain":["ARCBS","NDMM","RRMM"],"range":[0,108],"padding":0.42,"align":0.53},"axis":null},"y2":{"field":"level"}}},
    {"mark":{"type":"rule","color":"#333","strokeWidth":1,"yOffset":-3,"y2Offset":3},"encoding":{"x":{"field":"to","type":"nominal","scale":{"type":"point","domain":["ARCBS","NDMM","RRMM"],"range":[0,108],"padding":0.42,"align":0.53},"axis":null},"y2":{"field":"level"}}},
    {"transform":[{"filter":"datum.kind == 'wide'"}],"mark":{"type":"text","dx":38,"dy":-1,"baseline":"alphabetic","fontSize":11,"color":"#333"},"encoding":{"x":{"field":"from","type":"nominal","scale":{"type":"point","domain":["ARCBS","NDMM","RRMM"],"range":[0,108],"padding":0.42,"align":0.53},"axis":null},"text":{"field":"label"}}},
    {"transform":[{"filter":"datum.kind == 'adj'"}],"mark":{"type":"text","dx":19,"dy":-1,"baseline":"alphabetic","fontSize":11,"color":"#333"},"encoding":{"x":{"field":"from","type":"nominal","scale":{"type":"point","domain":["ARCBS","NDMM","RRMM"],"range":[0,108],"padding":0.42,"align":0.53},"axis":null},"text":{"field":"label"}}}
   ]},
  {"data":{"name":"ann"},"transform":[{"filter":"datum.key == 'a3t'"}],"mark":{"type":"text","fontSize":13,"fontWeight":"bold","baseline":"middle","color":"#000"},"encoding":{"x":{"datum":"NDMM","type":"nominal","scale":{"type":"point","domain":["ARCBS","NDMM","RRMM"],"range":[0,108],"padding":0.42,"align":0.53},"axis":null},"y":{"datum":143,"type":"quantitative","scale":{"domain":[0,120],"range":[158,13],"nice":false,"zero":false},"axis":null},"text":{"field":"label"}}},
  {"data":{"name":"ann"},"transform":[{"filter":"datum.key == 'a_ii'"}],"mark":{"type":"text","fontSize":12,"fontWeight":"bold","baseline":"middle","dx":-31,"color":"#000"},"encoding":{"x":{"datum":"ARCBS","type":"nominal","scale":{"type":"point","domain":["ARCBS","NDMM","RRMM"],"range":[0,108],"padding":0.42,"align":0.53},"axis":null},"y":{"datum":138,"type":"quantitative","scale":{"domain":[0,120],"range":[158,13],"nice":false,"zero":false},"axis":null},"text":{"field":"label"}}}
 ]},
{"width":110,"height":158,"resolve":{"scale":{"fill":"independent"},"axis":{"x":"independent","y":"independent"}},
 "layer":[
  {"data":{"name":"box"},"transform":[{"filter":"datum.panel == 'a4'"}],
   "resolve":{"axis":{"y":"independent"}},
   "encoding":{"x":{"field":"group","type":"nominal","scale":{"type":"point","domain":["ARCBS","NDMM","RRMM"],"range":[0,110],"padding":0.447,"align":0.5},"axis":{"title":null,"labelAngle":-45,"labelOverlap":false}}},
   "layer":[
    {"mark":{"type":"rule","color":"#333","strokeWidth":1},"encoding":{"y":{"field":"min","type":"quantitative","scale":{"domain":[0,100],"range":[158,13],"nice":false,"zero":false},"axis":{"title":"% CD8⁺ T cells","values":[0,20,40,60,80,100],"titleX":-26,"labelOverlap":false}},"y2":{"field":"max"}}},
    {"mark":{"type":"tick","color":"#333","size":14,"thickness":1,"opacity":1},"encoding":{"y":{"field":"min","type":"quantitative","scale":{"domain":[0,100],"range":[158,13],"nice":false,"zero":false},"axis":null}}},
    {"mark":{"type":"tick","color":"#333","size":14,"thickness":1,"opacity":1},"encoding":{"y":{"field":"max","type":"quantitative","scale":{"domain":[0,100],"range":[158,13],"nice":false,"zero":false},"axis":null}}},
    {"mark":{"type":"bar","size":25.5,"stroke":"#333","strokeWidth":1},"encoding":{"y":{"field":"q1","type":"quantitative","scale":{"domain":[0,100],"range":[158,13],"nice":false,"zero":false},"axis":null},"y2":{"field":"q3"},"fill":{"field":"group","type":"nominal","scale":{"domain":["ARCBS","NDMM","RRMM"],"range":["#ffffff","#c4c4c4","#707070"]},"legend":null}}},
    {"mark":{"type":"tick","color":"#222","size":25.5,"thickness":1.3,"opacity":1},"encoding":{"y":{"field":"med","type":"quantitative","scale":{"domain":[0,100],"range":[158,13],"nice":false,"zero":false},"axis":null}}}
   ]},
  {"data":{"name":"pts"},"transform":[{"filter":"datum.panel == 'a4'"}],
   "mark":{"type":"circle","size":22,"stroke":"#222","strokeWidth":1.1,"opacity":1},
   "encoding":{"x":{"field":"group","type":"nominal","scale":{"type":"point","domain":["ARCBS","NDMM","RRMM"],"range":[0,110],"padding":0.447,"align":0.5},"axis":null},"y":{"field":"value","type":"quantitative","scale":{"domain":[0,100],"range":[158,13],"nice":false,"zero":false},"axis":null},"xOffset":{"field":"lane","type":"quantitative","scale":{"domain":[-2,2],"range":[-10,10]}},"fill":{"field":"group","type":"nominal","scale":{"domain":["ARCBS","NDMM","RRMM"],"range":["#111111","#ffffff","#dddddd"]},"legend":null}}},
  {"data":{"name":"sig"},"transform":[{"filter":"datum.panel == 'a4'"}],
   "encoding":{"y":{"field":"level","type":"quantitative","scale":{"domain":[0,100],"range":[158,13],"nice":false,"zero":false},"axis":null}},
   "layer":[
    {"mark":{"type":"rule","color":"#333","strokeWidth":1},"encoding":{"x":{"field":"from","type":"nominal","scale":{"type":"point","domain":["ARCBS","NDMM","RRMM"],"range":[0,110],"padding":0.447,"align":0.5},"axis":null},"x2":{"field":"to"}}},
    {"mark":{"type":"rule","color":"#333","strokeWidth":1,"yOffset":-3,"y2Offset":3},"encoding":{"x":{"field":"from","type":"nominal","scale":{"type":"point","domain":["ARCBS","NDMM","RRMM"],"range":[0,110],"padding":0.447,"align":0.5},"axis":null},"y2":{"field":"level"}}},
    {"mark":{"type":"rule","color":"#333","strokeWidth":1,"yOffset":-3,"y2Offset":3},"encoding":{"x":{"field":"to","type":"nominal","scale":{"type":"point","domain":["ARCBS","NDMM","RRMM"],"range":[0,110],"padding":0.447,"align":0.5},"axis":null},"y2":{"field":"level"}}},
    {"transform":[{"filter":"datum.kind == 'wide'"}],"mark":{"type":"text","dx":38,"dy":-1,"baseline":"alphabetic","fontSize":11,"color":"#333"},"encoding":{"x":{"field":"from","type":"nominal","scale":{"type":"point","domain":["ARCBS","NDMM","RRMM"],"range":[0,110],"padding":0.447,"align":0.5},"axis":null},"text":{"field":"label"}}},
    {"transform":[{"filter":"datum.kind == 'adj'"}],"mark":{"type":"text","dx":19,"dy":-1,"baseline":"alphabetic","fontSize":11,"color":"#333"},"encoding":{"x":{"field":"from","type":"nominal","scale":{"type":"point","domain":["ARCBS","NDMM","RRMM"],"range":[0,110],"padding":0.447,"align":0.5},"axis":null},"text":{"field":"label"}}}
   ]},
  {"data":{"name":"ann"},"transform":[{"filter":"datum.key == 'a4t'"}],"mark":{"type":"text","fontSize":13,"fontWeight":"bold","baseline":"middle","color":"#000"},"encoding":{"x":{"datum":"NDMM","type":"nominal","scale":{"type":"point","domain":["ARCBS","NDMM","RRMM"],"range":[0,110],"padding":0.447,"align":0.5},"axis":null},"y":{"datum":118.4,"type":"quantitative","scale":{"domain":[0,100],"range":[158,13],"nice":false,"zero":false},"axis":null},"text":{"field":"label"}}}
 ]},
{"width":111,"height":159,"resolve":{"axis":{"x":"independent","y":"independent"}},
 "layer":[
  {"data":{"name":"pairs"},"transform":[{"filter":"datum.panel == 'b3'"}],
   "encoding":{"x":{"field":"site","type":"nominal","scale":{"type":"point","domain":["PB","BM"],"range":[0,90],"padding":0.579,"align":0.545},"axis":{"title":null,"labelAngle":-45,"labelFontSize":10,"labelOverlap":false}},"y":{"field":"value","type":"quantitative","scale":{"domain":[0,100],"range":[159,0],"nice":false,"zero":false},"axis":{"title":"% CD8⁺ T cells","values":[0,20,40,60,80,100],"titleX":-24,"labelFontSize":9.5,"labelOverlap":false}}},
   "layer":[
    {"mark":{"type":"line","color":"#000","strokeWidth":2},"encoding":{"detail":{"field":"id","type":"nominal"}}},
    {"mark":{"type":"circle","color":"#000","size":50,"opacity":1},"encoding":{}}
   ]},
  {"data":{"name":"sig"},"transform":[{"filter":"datum.panel == 'b3'"}],
   "encoding":{"y":{"field":"level","type":"quantitative","scale":{"domain":[0,100],"range":[159,0],"nice":false,"zero":false},"axis":null}},
   "layer":[
    {"mark":{"type":"rule","color":"#333","strokeWidth":1},"encoding":{"x":{"field":"from","type":"nominal","scale":{"type":"point","domain":["PB","BM"],"range":[0,90],"padding":0.579,"align":0.545},"axis":null},"x2":{"field":"to"}}},
    {"mark":{"type":"rule","color":"#333","strokeWidth":1,"yOffset":-3,"y2Offset":3},"encoding":{"x":{"field":"from","type":"nominal","scale":{"type":"point","domain":["PB","BM"],"range":[0,90],"padding":0.579,"align":0.545},"axis":null},"y2":{"field":"level"}}},
    {"mark":{"type":"rule","color":"#333","strokeWidth":1,"yOffset":-3,"y2Offset":3},"encoding":{"x":{"field":"to","type":"nominal","scale":{"type":"point","domain":["PB","BM"],"range":[0,90],"padding":0.579,"align":0.545},"axis":null},"y2":{"field":"level"}}},
    {"mark":{"type":"text","dx":21,"dy":-1,"baseline":"alphabetic","fontSize":11,"color":"#333"},"encoding":{"x":{"field":"from","type":"nominal","scale":{"type":"point","domain":["PB","BM"],"range":[0,90],"padding":0.579,"align":0.545},"axis":null},"text":{"field":"label"}}}
   ]},
  {"data":{"name":"ann"},"transform":[{"filter":"datum.key == 'b3t'"}],"mark":{"type":"text","fontSize":13,"fontWeight":"bold","baseline":"middle","dx":21,"color":"#000"},"encoding":{"x":{"datum":"PB","type":"nominal","scale":{"type":"point","domain":["PB","BM"],"range":[0,90],"padding":0.579,"align":0.545},"axis":null},"y":{"datum":114,"type":"quantitative","scale":{"domain":[0,100],"range":[159,0],"nice":false,"zero":false},"axis":null},"text":{"field":"label"}}},
  {"data":{"name":"ann"},"transform":[{"filter":"datum.key == 'b_ii'"}],"mark":{"type":"text","fontSize":11,"fontWeight":"bold","baseline":"middle","dx":-50,"color":"#000"},"encoding":{"x":{"datum":"PB","type":"nominal","scale":{"type":"point","domain":["PB","BM"],"range":[0,90],"padding":0.579,"align":0.545},"axis":null},"y":{"datum":107.5,"type":"quantitative","scale":{"domain":[0,100],"range":[159,0],"nice":false,"zero":false},"axis":null},"text":{"field":"label"}}}
 ]},
{"width":84,"height":158,"resolve":{"axis":{"x":"independent","y":"independent"}},
 "layer":[
  {"data":{"name":"pairs"},"transform":[{"filter":"datum.panel == 'b4'"}],
   "encoding":{"x":{"field":"site","type":"nominal","scale":{"type":"point","domain":["PB","BM"],"range":[0,84],"padding":0.493,"align":0.448},"axis":{"title":null,"labelAngle":-45,"labelFontSize":10,"labelOverlap":false}},"y":{"field":"value","type":"quantitative","scale":{"domain":[0,100],"range":[158,0],"nice":false,"zero":false},"axis":{"title":"% CD8⁺ T cells","values":[0,20,40,60,80,100],"titleX":-29,"labelFontSize":9.5,"labelOverlap":false}}},
   "layer":[
    {"mark":{"type":"line","color":"#000","strokeWidth":2},"encoding":{"detail":{"field":"id","type":"nominal"}}},
    {"mark":{"type":"circle","color":"#000","size":50,"opacity":1},"encoding":{}}
   ]},
  {"data":{"name":"sig"},"transform":[{"filter":"datum.panel == 'b4'"}],
   "encoding":{"y":{"field":"level","type":"quantitative","scale":{"domain":[0,100],"range":[158,0],"nice":false,"zero":false},"axis":null}},
   "layer":[
    {"mark":{"type":"rule","color":"#333","strokeWidth":1},"encoding":{"x":{"field":"from","type":"nominal","scale":{"type":"point","domain":["PB","BM"],"range":[0,84],"padding":0.493,"align":0.448},"axis":null},"x2":{"field":"to"}}},
    {"mark":{"type":"rule","color":"#333","strokeWidth":1,"yOffset":-3,"y2Offset":3},"encoding":{"x":{"field":"from","type":"nominal","scale":{"type":"point","domain":["PB","BM"],"range":[0,84],"padding":0.493,"align":0.448},"axis":null},"y2":{"field":"level"}}},
    {"mark":{"type":"rule","color":"#333","strokeWidth":1,"yOffset":-3,"y2Offset":3},"encoding":{"x":{"field":"to","type":"nominal","scale":{"type":"point","domain":["PB","BM"],"range":[0,84],"padding":0.493,"align":0.448},"axis":null},"y2":{"field":"level"}}},
    {"mark":{"type":"text","dx":21,"dy":-1,"baseline":"alphabetic","fontSize":11,"color":"#333"},"encoding":{"x":{"field":"from","type":"nominal","scale":{"type":"point","domain":["PB","BM"],"range":[0,84],"padding":0.493,"align":0.448},"axis":null},"text":{"field":"label"}}}
   ]},
  {"data":{"name":"ann"},"transform":[{"filter":"datum.key == 'b4t'"}],"mark":{"type":"text","fontSize":13,"fontWeight":"bold","baseline":"middle","dx":21,"color":"#000"},"encoding":{"x":{"datum":"PB","type":"nominal","scale":{"type":"point","domain":["PB","BM"],"range":[0,84],"padding":0.493,"align":0.448},"axis":null},"y":{"datum":114.4,"type":"quantitative","scale":{"domain":[0,100],"range":[158,0],"nice":false,"zero":false},"axis":null},"text":{"field":"label"}}}
 ]}
]
}
